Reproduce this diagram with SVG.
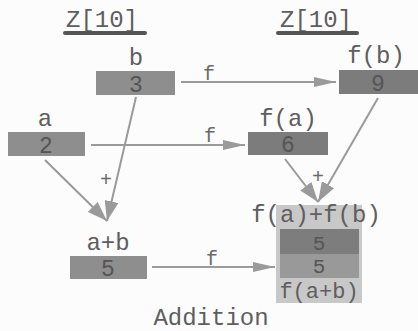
<svg xmlns="http://www.w3.org/2000/svg" width="418" height="331" viewBox="0 0 418 331">
  <style>
    text { font-family: "Liberation Mono", "DejaVu Sans Mono", monospace; fill: #5e5e5e; text-anchor: middle; }
    .lbl { font-size: 24px; }
    .val { font-size: 23px; fill: #555; }
    .val-sm { font-size: 21px; fill: #555; }
    .op { font-size: 20px; fill: #6a6a6a; }
    .cell { fill: #8e8e8e; }
    .cell-dark { fill: #7c7c7c; }
    .edge { stroke: #9a9a9a; stroke-width: 2; fill: none; }
    .title-rule { stroke: #555; stroke-width: 4; stroke-linecap: round; }
  </style>
  <defs>
    <marker id="head" markerUnits="userSpaceOnUse" markerWidth="22" markerHeight="10" refX="22" refY="5" orient="auto">
      <path d="M0,0 L22,5 L0,10 z" fill="#9a9a9a"/>
    </marker>
    <marker id="head-wide" markerUnits="userSpaceOnUse" markerWidth="20" markerHeight="14" refX="20" refY="7" orient="auto">
      <path d="M0,0 L20,7 L0,14 z" fill="#9a9a9a"/>
    </marker>
  </defs>
  <rect width="418" height="331" fill="#fcfcfc"/>

  <!-- column headings -->
  <g id="heading-left">
    <text class="lbl" x="102" y="27">Z[10]</text>
    <line class="title-rule" x1="65" y1="33" x2="145" y2="33"/>
  </g>
  <g id="heading-right">
    <text class="lbl" x="316" y="27">Z[10]</text>
    <line class="title-rule" x1="278" y1="33" x2="357" y2="33"/>
  </g>

  <!-- connectors -->
  <g id="connectors">
    <line class="edge" x1="181" y1="82" x2="336" y2="82" marker-end="url(#head)"/>
    <text class="op" x="209" y="80">f</text>
    <line class="edge" x1="91" y1="145" x2="245" y2="145" marker-end="url(#head)"/>
    <text class="op" x="210" y="142">f</text>
    <line class="edge" x1="152" y1="267" x2="275" y2="267" marker-end="url(#head)"/>
    <text class="op" x="212" y="265">f</text>

    <line class="edge" x1="45" y1="160" x2="107" y2="221" marker-end="url(#head-wide)"/>
    <line class="edge" x1="136" y1="97" x2="107" y2="221" marker-end="url(#head-wide)"/>
    <text class="op" x="106" y="186">+</text>

    <line class="edge" x1="285" y1="159" x2="318" y2="202" marker-end="url(#head-wide)"/>
    <line class="edge" x1="378" y1="98" x2="318" y2="202" marker-end="url(#head-wide)"/>
    <text class="op" x="318" y="183">+</text>
  </g>

  <g id="node-b">
    <text class="lbl" x="136" y="65">b</text>
    <rect class="cell" x="96" y="71" width="79" height="24"/>
    <text class="val" x="136" y="92">3</text>
  </g>
  <g id="node-a">
    <text class="lbl" x="45" y="126">a</text>
    <rect class="cell" x="8" y="132" width="77" height="24"/>
    <text class="val" x="46" y="153">2</text>
  </g>
  <g id="node-fb">
    <text class="lbl" x="376" y="63">f(b)</text>
    <rect class="cell-dark" x="339" y="70" width="79" height="24"/>
    <text class="val" x="378" y="91">9</text>
  </g>
  <g id="node-fa">
    <text class="lbl" x="288" y="126">f(a)</text>
    <rect class="cell-dark" x="248" y="132" width="80" height="23"/>
    <text class="val" x="288" y="152">6</text>
  </g>
  <g id="node-apb">
    <text class="lbl" x="108" y="250">a+b</text>
    <rect class="cell" x="70" y="256" width="77" height="23"/>
    <text class="val" x="108" y="276">5</text>
  </g>
  <g id="node-sum">
    <rect x="276" y="205" width="86" height="98" fill="#c8c8c8"/>
    <text class="lbl" x="316" y="222">f(a)+f(b)</text>
    <rect x="280" y="229" width="79" height="25" fill="#7d7d7d"/>
    <text class="val-sm" x="319" y="250">5</text>
    <rect x="280" y="254" width="79" height="24" fill="#999999"/>
    <text class="val-sm" x="319" y="273">5</text>
    <text class="lbl" x="319" y="298" style="font-size:22px">f(a+b)</text>
  </g>

  <text class="lbl" x="211" y="325">Addition</text>
</svg>
